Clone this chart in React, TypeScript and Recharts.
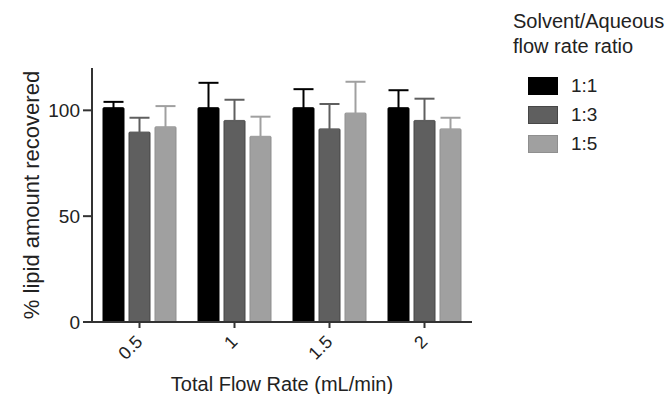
import { BarChart, Bar, XAxis, YAxis, ErrorBar } from "recharts";

const flowRates = ["0.5", "1", "1.5", "2"];
const ratioNames = ["1:1", "1:3", "1:5"];
const ratioColors = ["#000000", "#5f5f5f", "#a0a0a0"];
const ratioBorders = ["#000000", "#474747", "#8f8f8f"];

const recovered11 = [101, 101, 101, 101];
const recovered13 = [89.5, 95, 91, 95];
const recovered15 = [92, 87.5, 98.5, 91];

const sd11 = [3, 12, 9, 8.5];
const sd13 = [7, 10, 12, 10.5];
const sd15 = [10, 9.5, 15, 5.5];

const yTicks = [0, 50, 100];

const data = flowRates.map((rate, i) => ({
  rate,
  r11: recovered11[i],
  r13: recovered13[i],
  r15: recovered15[i],
  // upward-only error bars
  e11: [0, sd11[i]],
  e13: [0, sd13[i]],
  e15: [0, sd15[i]],
}));

const font = "'Liberation Sans', Arial, sans-serif";
const narrow = "'Liberation Sans Narrow', 'Liberation Sans', Arial, sans-serif";

const RotatedTick = (props: any) => {
  const { x, y, payload } = props;
  return (
    <g transform={`translate(${x + 4},${y + 13})`}>
      <text
        x={0}
        y={0}
        textAnchor="end"
        fill="#222"
        fontSize={18}
        fontFamily={font}
        transform="rotate(-45)"
      >
        {payload.value}
      </text>
    </g>
  );
};

const App = () => {
  const seriesKeys = ["r11", "r13", "r15"];
  const errKeys = ["e11", "e13", "e15"];
  return (
    <div style={{ position: "absolute", left: 0, top: 0, width: 667, height: 394, fontFamily: font }}>
      <BarChart
        width={667}
        height={394}
        data={data}
        margin={{ top: 68, right: 195, bottom: 0, left: 0 }}
        barCategoryGap={11}
        barGap={5}
      >
        <XAxis
          dataKey="rate"
          height={72}
          stroke="#333"
          strokeWidth={2}
          tickSize={6}
          tick={<RotatedTick />}
          interval={0}
          label={{
            value: "Total Flow Rate (mL/min)",
            position: "insideBottom",
            offset: 3,
            fill: "#222",
            fontSize: 20,
            fontFamily: font,
          }}
        />
        <YAxis
          width={92}
          domain={[0, 120]}
          ticks={yTicks}
          stroke="#333"
          strokeWidth={2}
          tickSize={9}
          tickMargin={3}
          tick={{ fill: "#222", fontSize: 19, fontFamily: narrow }}
          label={{
            value: "% lipid amount recovered",
            angle: -90,
            position: "insideLeft",
            offset: 31,
            fill: "#222",
            fontSize: 22,
            fontFamily: font,
            style: { textAnchor: "middle" },
          }}
        />
        {seriesKeys.map((key, i) => (
          <Bar
            key={key}
            dataKey={key}
            name={ratioNames[i]}
            fill={ratioColors[i]}
            stroke={ratioBorders[i]}
            strokeWidth={1}
            isAnimationActive={false}
          >
            <ErrorBar dataKey={errKeys[i]} stroke={ratioColors[i]} strokeWidth={2} width={10} />
          </Bar>
        ))}
      </BarChart>
      <div style={{ position: "absolute", left: 513, top: 9, fontSize: 20, lineHeight: "25px", color: "#222", whiteSpace: "nowrap" }}>
        <div>Solvent/Aqueous</div>
        <div>flow rate ratio</div>
        <div style={{ marginTop: 12, marginLeft: 15 }}>
          {ratioNames.map((name, i) => (
            <div key={name} style={{ display: "flex", alignItems: "center", height: 29 }}>
              <span
                style={{
                  display: "inline-block",
                  width: 30,
                  height: 18,
                  background: ratioColors[i],
                  border: `1px solid ${ratioBorders[i]}`,
                  boxSizing: "border-box",
                  marginRight: 13,
                }}
              />
              <span style={{ fontSize: 19 }}>{name}</span>
            </div>
          ))}
        </div>
      </div>
    </div>
  );
};

export default App;
